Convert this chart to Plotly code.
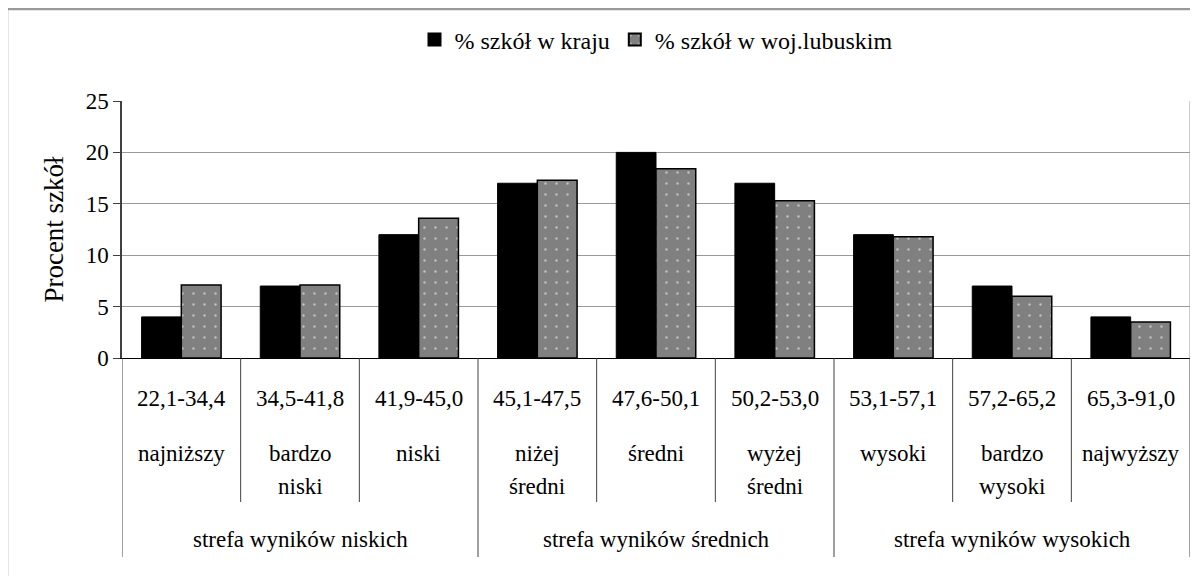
import plotly.graph_objects as go

# ---- data ----
ranges = ["22,1-34,4", "34,5-41,8", "41,9-45,0", "45,1-47,5", "47,6-50,1",
          "50,2-53,0", "53,1-57,1", "57,2-65,2", "65,3-91,0"]
levels = ["najniższy", "bardzo<br>niski", "niski", "niżej<br>średni", "średni",
          "wyżej<br>średni", "wysoki", "bardzo<br>wysoki", "najwyższy"]
zones = ["strefa wyników niskich", "strefa wyników średnich", "strefa wyników wysokich"]
zone_size = 3
kraj = [4, 7, 12, 17, 20, 17, 12, 7, 4]
lubuskie = [7.1, 7.1, 13.6, 17.3, 18.4, 15.3, 11.8, 6.0, 3.5]
yticks = [0, 5, 10, 15, 20, 25]
series_names = ["% szkół w kraju", "% szkół w woj.lubuskim"]

# ---- layout geometry (screen pixels; page body has an 8px margin) ----
OFF = 8
W, H = 1198 - OFF, 576 - OFF
L, R, T, B = 122 - OFF, 1190 - OFF, 101 - OFF, 358 - OFF
FONT = "Times New Roman, Liberation Serif, serif"


def py(p):
    """screen pixel y -> paper y"""
    return (B - (p - OFF)) / (B - T)


def px(p):
    """screen pixel x -> paper x"""
    return ((p - OFF) - L) / (R - L)


n = len(ranges)
xs = list(range(n))

fig = go.Figure()
fig.add_trace(go.Bar(
    x=xs, y=kraj, name=series_names[0],
    marker=dict(color="black", line=dict(color="black", width=1)),
))
fig.add_trace(go.Bar(
    x=xs, y=lubuskie, name=series_names[1],
    marker=dict(color="#808080", line=dict(color="black", width=1.5),
                pattern=dict(shape=".", fgcolor="white", bgcolor="#808080",
                             size=11, solidity=0.04)),
))

shapes = []
# outer chart frame
shapes.append(dict(type="rect", xref="paper", yref="paper",
                   x0=px(7), x1=px(1210), y0=py(9), y1=py(590),
                   line=dict(color="#999999", width=2.5), layer="below"))
# right plot border
shapes.append(dict(type="line", xref="x", yref="paper", x0=n - 0.5, x1=n - 0.5,
                   y0=0, y1=1, line=dict(color="#999999", width=1)))
# category dividers below the axis
for i in range(n + 1):
    is_zone = (i % zone_size == 0)
    shapes.append(dict(type="line", xref="x", yref="paper",
                       x0=i - 0.5, x1=i - 0.5, y0=0,
                       y1=py(557) if is_zone else py(502),
                       line=dict(color="#404040", width=1)))

lab_font = dict(family=FONT, size=23, color="black")
annotations = []
for i in range(n):
    annotations.append(dict(x=i, y=py(398), xref="x", yref="paper", text=ranges[i],
                            showarrow=False, yanchor="middle", font=lab_font))
    parts = levels[i].split("<br>")
    for k, part in enumerate(parts):
        annotations.append(dict(x=i, y=py(453 + 33 * k), xref="x", yref="paper",
                                text=part, showarrow=False, yanchor="middle",
                                font=lab_font))
for j, z in enumerate(zones):
    annotations.append(dict(x=j * zone_size + (zone_size - 1) / 2, y=py(539),
                            xref="x", yref="paper", text=z, showarrow=False,
                            yanchor="middle", font=lab_font))

fig.update_layout(
    width=W, height=H,
    margin=dict(l=L, r=W - R, t=T, b=H - B, pad=0),
    paper_bgcolor="white", plot_bgcolor="white",
    barmode="group", bargap=0.33, bargroupgap=0,
    font=dict(family=FONT, size=23, color="black"),
    showlegend=True,
    legend=dict(orientation="h", x=0.5, xanchor="center", y=py(40), yanchor="middle",
                font=dict(family=FONT, size=24, color="black"),
                itemsizing="constant", bgcolor="rgba(0,0,0,0)", traceorder="normal"),
    xaxis=dict(range=[-0.5, n - 0.5], showticklabels=False, ticks="",
               showgrid=False, zeroline=False, showline=True,
               linecolor="black", linewidth=1, fixedrange=True),
    yaxis=dict(range=[0, 25], tickvals=yticks, ticks="outside", ticklen=7,
               tickcolor="#404040", showline=True, linecolor="#404040", linewidth=1.5,
               showgrid=True, gridcolor="#999999", gridwidth=1, zeroline=False,
               tickfont=dict(family=FONT, size=23, color="black"),
               title=dict(text="Procent szkół", font=dict(family=FONT, size=27, color="black"),
                          standoff=14)),
    shapes=shapes, annotations=annotations,
)

fig.write_html("out.html")
